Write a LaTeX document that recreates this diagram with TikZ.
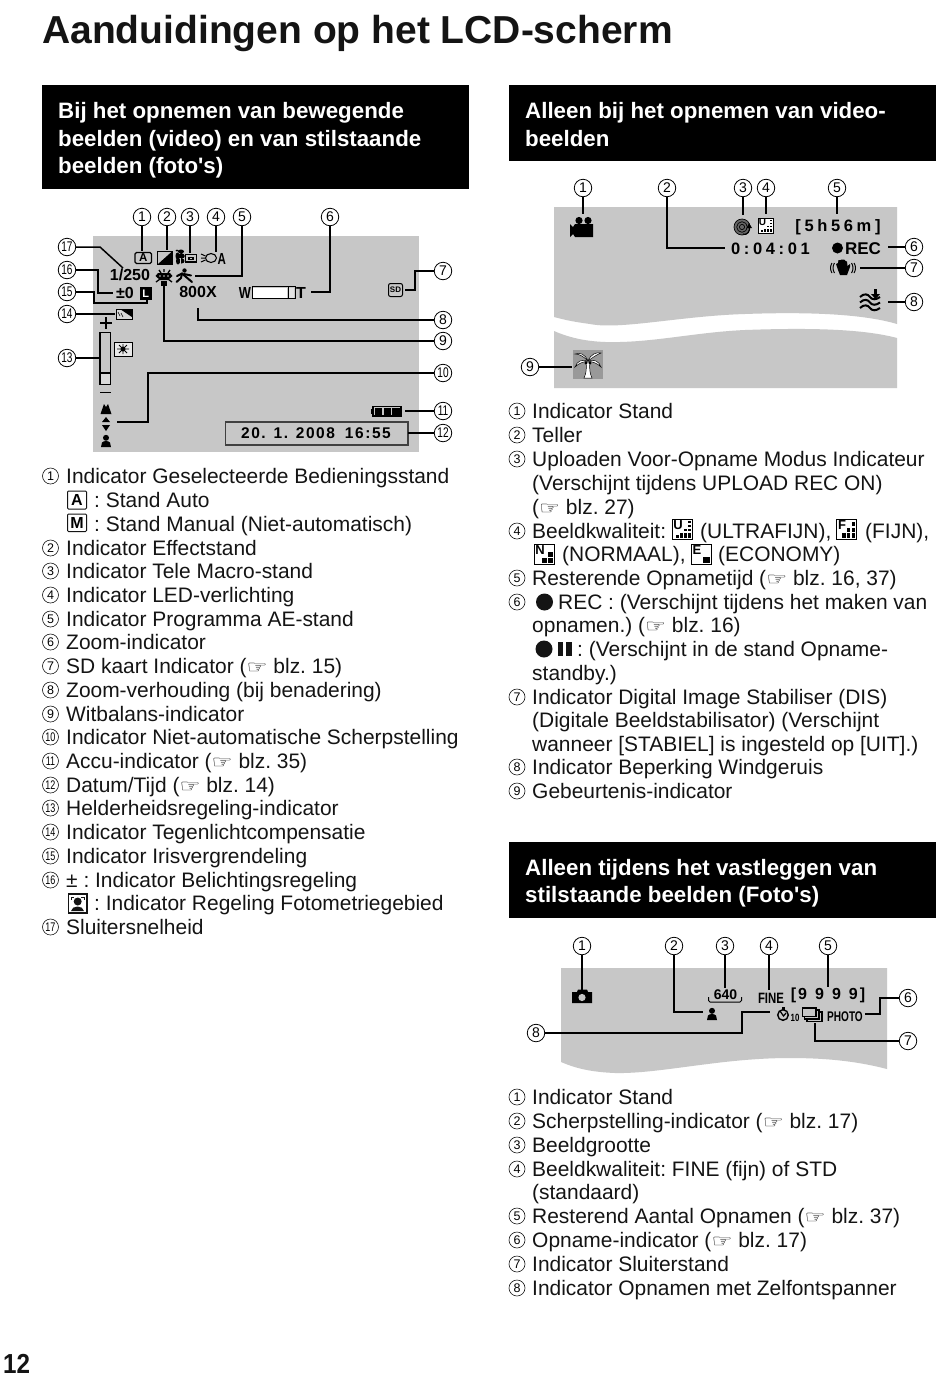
\documentclass[tikz,border=0pt]{standalone}
\usepackage{fontspec}
\usepackage{graphicx}
\setmainfont{Liberation Sans}
\newfontfamily\dejavu{DejaVu Sans}
\newfontfamily\plainsans{Liberation Sans}
\definecolor{lcd}{gray}{0.78}
\definecolor{ink}{gray}{0.08}
\tikzset{
 x=1pt,y=-1pt,
 conn/.style={draw=black,line width=1.5pt},
 connb/.style={draw=black,line width=2.4pt},
 call/.style={circle,draw=black,line width=.8pt,minimum size=17.5pt,inner sep=0pt,fill=white,font=\fontsize{14}{14}\selectfont},
 lnum/.style={circle,draw=ink,line width=.6pt,minimum size=16pt,inner sep=0pt,font=\fontsize{12.5}{13}\selectfont},
 body/.style={anchor=base west,inner sep=0pt,text=ink,font=\fontsize{20.95}{24}\selectfont\frenchspacing},
 head/.style={anchor=base west,inner sep=0pt,text=white,font=\fontsize{22.3}{24}\selectfont\plainsans\bfseries\frenchspacing},
 lab/.style={inner sep=0pt,text=black,font=\fontsize{16}{16}\selectfont\bfseries},
 lcdbox/.style={fill=lcd,draw=none},
 hdr/.style={fill=black,draw=none},
 ico/.style={fill=black,draw=none},
 frm/.style={draw=black,line width=1.2pt}
}
% two-digit numerals squeezed into the circles
\newcommand\nd[1]{\scalebox{.72}[1]{#1}}
% text line: name, x, centre y, text
\newcommand\tl[4]{\node[body] (#1) at (#2,#3+7.6) {#4};}
% list number: name, x, centre y, numeral
\newcommand\lnm[4]{\node[lnum] (#1) at (#2,#3) {#4};}
% pointing-hand reference
\newcommand\hand{\scalebox{1.3}[1]{\dejavu\fontsize{18}{24}\selectfont\char"261E}}
\newcommand\person[2]{\begin{scope}[shift={(#1,#2)}]
 \fill[black] (0,-3.2) circle (3);
 \fill[black] (-5,6) -- (-4,1.5) .. controls (-2,-.5) and (2,-.5) .. (4,1.5) -- (5,6) -- cycle;
\end{scope}}
% quality icon: name, x, y (top-left), size, letter size, letter, level
\newcommand\qual[7]{\begin{scope}[shift={(#2,#3)},x=#4pt,y=-#4pt]
 \draw[black,line width=1pt,fill=white] (0,0) rectangle (1,1);
 \foreach \qa/\qb/\qc/\qd in #7{\fill[black] (\qa,\qb) rectangle (\qc,\qd);}
 \node[inner sep=0pt,font=\fontsize{#5}{#5}\selectfont\bfseries] (#1) at (.3,.3) {#6};
\end{scope}}
\def\qU{.8/.1/.93/.22,.8/.3/.93/.42,.8/.5/.93/.62,.8/.7/.93/.93,.6/.5/.74/.62,.6/.7/.74/.93,.4/.7/.54/.93,.2/.8/.34/.93}
\def\qF{.78/.15/.93/.33,.78/.45/.93/.63,.55/.45/.72/.63,.78/.7/.93/.93,.55/.7/.72/.93,.3/.7/.48/.93}
\def\qN{.72/.35/.93/.6,.72/.67/.93/.93,.42/.67/.64/.93}
\def\qE{.6/.6/.93/.93}
\begin{document}
\begin{tikzpicture}
\useasboundingbox (0,0) rectangle (950,1377);
\fill[white] (0,0) rectangle (950,1377);

% ---------- title and page number
\node[anchor=base west,inner sep=0pt,text=ink,font=\fontsize{39}{40}\selectfont\bfseries] (title) at (42,43) {Aanduidingen op het LCD-scherm};
\node[anchor=base west,inner sep=0pt,text=ink,font=\fontsize{27.5}{28}\selectfont\bfseries] (pageno) at (3,1373) {\scalebox{.88}[1]{12}};

% ---------- header bars
\fill[hdr] (42,85) rectangle (469,189);
\node[head] (h1a) at (58,118) {Bij het opnemen van bewegende};
\node[head] (h1b) at (58,146) {beelden (video) en van stilstaande};
\node[head] (h1c) at (58,173) {beelden (foto's)};
\fill[hdr] (509,85) rectangle (936,161);
\node[head] (h2a) at (525,118) {Alleen bij het opnemen van video-};
\node[head] (h2b) at (525,146) {beelden};
\fill[hdr] (509,842) rectangle (936,918);
\node[head] (h3a) at (525,875) {Alleen tijdens het vastleggen van};
\node[head] (h3b) at (525,902) {stilstaande beelden (Foto's)};

% ---------- LCD 1
\fill[lcdbox] (93,236) rectangle (419,452);
% icon 1
\draw[frm,rounded corners=1.5pt] (135,252.5) rectangle (151.5,263.5);
\node[inner sep=0pt,font=\fontsize{11.5}{11}\selectfont\bfseries] (i1) at (143.2,258) {A};
% icon 2
\draw[black,line width=1pt] (157.5,251.5) rectangle (172,264.5);
\fill[black] (157.5,264.5) -- (172,251.5) -- (172,264.5) -- cycle;
% icon 3 (tele macro)
\fill[black] (177,250.5) ellipse (1.5 and 1) (181,251.5) ellipse (3 and 2) (177.5,256) ellipse (2 and 3.5) (181.5,256) ellipse (3.3 and 2.5) (178,261) ellipse (2 and 3.5) (181.5,261) ellipse (3 and 2.5);
\fill[lcd] (179.5,258) -- (180.8,258) -- (180.8,265) -- (179.5,265) -- cycle;
\draw[black,line width=1.2pt] (185.5,254.5) rectangle (196.5,262);
\fill[black] (188,256.5) -- (193.5,256.5) -- (193.5,260) -- (188,260) -- cycle;
\fill[lcd] (189.5,258) -- (192,258) -- (192,259) -- (189.5,259) -- cycle;
% icon 4 (LED)
\draw[black,line width=1.1pt] (211,258) ellipse (5.5 and 4.5);
\draw[black,line width=1pt] (201,254) -- (205.5,256) (201,258) -- (205,258) (201,262) -- (205.5,260);
\node[inner sep=0pt,font=\fontsize{16}{15}\selectfont\bfseries] (i4) at (221.8,258.5) {\scalebox{.72}[1]{A}};
% icon 5 (running figure)
\begin{scope}[black,line width=2pt,line cap=round]
\fill (184.5,270.5) circle (2.2);
\draw (177,276) -- (182,273.5) -- (192,282);
\draw (182,273.5) -- (181,278) -- (176.5,282);
\draw (184,274) -- (191,275.5);
\end{scope}
% icon 9 (WB sun)
\fill[black] (158,273) -- (170,273) -- (172.5,276) -- (168,280) -- (160,280) -- (155.5,276) -- cycle;
\draw[black,line width=1.3pt] (159,270) -- (161,273) (170,270) -- (168,273) (164,269) -- (164,272);
\draw[black,line width=1.3pt] (156,282) -- (160,279) (172,282) -- (168,279);
\fill[black] (161,281) rectangle (167,285.5);
\fill[lcd] (160,276) circle (.9) (164,276) circle (.9) (168,276) circle (.9);
% texts
\node[lab] (t1250) at (130,275) {1/250};
\node[lab] (tpm) at (125,293) {±0};
\fill[black] (140,287) rectangle (151.5,300);
\node[inner sep=0pt,text=white,font=\fontsize{11}{11}\selectfont\bfseries] (tL) at (145.8,293.5) {L};
\node[lab] (t800) at (198,292) {800X};
\node[lab] (tW) at (245,293) {\scalebox{.8}[1]{W}};
\draw[black,line width=1pt] (252,286.5) rectangle (295,298.5);
\draw[black,line width=.8pt] (288,286.5) -- (288,298.5);
\fill[white] (253,287.5) rectangle (287,297.5);
\fill[white,opacity=.5] (289,287.5) rectangle (294,297.5);
\node[lab] (tT) at (301,293) {T};
% SD
\draw[black,line width=1pt,rounded corners=2pt] (388.5,283.5) rectangle (402.5,296.5);
\node[inner sep=0pt,font=\fontsize{8}{8}\selectfont\bfseries] (tSD) at (395.5,290) {SD};
% backlight icon
\draw[black,line width=1pt,fill=lcd!70] (116,309) rectangle (132,319);
\fill[black] (120,309) -- (132,309) -- (132,317) -- cycle;
\draw[black,line width=.6pt] (118,312) -- (120,316) (121,313) -- (123,317);
% brightness
\draw[black,line width=1.3pt] (100,323) -- (112,323) (106,317) -- (106,329);
\draw[black,line width=1.3pt] (100,332.5) rectangle (110.5,384.5);
\draw[black,line width=1.2pt] (100,373) -- (110.5,373);
\fill[white,opacity=.35] (101,374) rectangle (109.5,384);
\draw[black,line width=1pt] (100,392) -- (111,392);
\draw[black,line width=1pt,fill=white!60!lcd] (114,342) rectangle (132,356);
\fill[black] (123,349) circle (2.5);
\draw[black,line width=.8pt] (117,349) -- (129,349) (123,344) -- (123,354) (119,345) -- (127,353) (127,345) -- (119,353);
% focus
\fill[black] (100.5,414) -- (104,404) -- (106,407) -- (108,404) -- (111.5,414) -- cycle;
\fill[black] (102,422) -- (106,417) -- (110,422) -- cycle;
\fill[black] (102,425) -- (110,425) -- (106,431) -- cycle;
\person{106}{441}
% battery
\draw[black,line width=1.2pt] (373,406.5) rectangle (401,416);
\fill[black] (371,409) rectangle (373,414);
\fill[black] (375,408) rectangle (382,414.5);\fill[black] (383.5,408) rectangle (390.5,414.5);\fill[black] (392,408) rectangle (399.5,414.5);
% date
\draw[black!75,line width=1.4pt] (225.5,422) rectangle (408,445);
\node[lab,font=\fontsize{15.5}{16}\selectfont\bfseries\addfontfeature{LetterSpace=10}] (tdate) at (316,433.5) {20. 1. 2008\hspace{10pt}16:55};

% callouts LCD 1
\node[call] (a1) at (142,217) {1};
\node[call] (a2) at (167,217) {2};
\node[call] (a3) at (190,217) {3};
\node[call] (a4) at (216,217) {4};
\node[call] (a5) at (242,217) {5};
\node[call] (a6) at (330,217) {6};
\node[call] (a7) at (443,271) {7};
\node[call] (a8) at (443,320) {8};
\node[call] (a9) at (443,341) {9};
\node[call] (a10) at (443,373) {\nd{10}};
\node[call] (a11) at (443,411) {\nd{11}};
\node[call] (a12) at (443,433) {\nd{12}};
\node[call] (a13) at (67,358) {\nd{13}};
\node[call] (a14) at (67,314) {\nd{14}};
\node[call] (a15) at (67,292) {\nd{15}};
\node[call] (a16) at (67,270) {\nd{16}};
\node[call] (a17) at (67,247) {\nd{17}};
\coordinate (ae1) at (142,251);\coordinate (ae2) at (167,250);\coordinate (ae3) at (190,253);\coordinate (ae4) at (216,252);
\coordinate (ae5) at (195,276);\coordinate (ae6) at (311,292);
\coordinate (ae7a) at (415,271);\coordinate (ae7b) at (415,290);\coordinate (ae7) at (405,290);
\coordinate (ae8) at (198,308);\coordinate (ae9) at (164,285);
\coordinate (ae10a) at (148,373);\coordinate (ae10b) at (148,422);\coordinate (ae10) at (117,422);
\coordinate (ae11) at (405,411);\coordinate (ae12) at (408,433);\coordinate (ae13) at (99,358);\coordinate (ae14) at (115,314);
\coordinate (ae15a) at (94,292);\coordinate (ae15b) at (94,303);\coordinate (ae15c) at (147,303);\coordinate (ae15) at (147,299);
\coordinate (ae16a) at (98,270);\coordinate (ae16b) at (98,293);\coordinate (ae16) at (113,293);
\coordinate (ae17a) at (100,247);\coordinate (ae17) at (123,268);
\draw[conn] (a1) -- (ae1);\draw[conn] (a2) -- (ae2);\draw[conn] (a3) -- (ae3);\draw[conn] (a4) -- (ae4);
\draw[conn] (a5) |- (ae5);\draw[conn] (a6) |- (ae6);
\draw[conn] (a7) -- (ae7a) -- (ae7b) -- (ae7);
\draw[conn] (a8) -| (ae8);\draw[conn] (a9) -| (ae9);
\draw[conn] (a10) -- (ae10a) -- (ae10b) -- (ae10);
\draw[conn] (a11) -- (ae11);\draw[conn] (a12) -- (ae12);\draw[conn] (a13) -- (ae13);\draw[conn] (a14) -- (ae14);
\draw[conn] (a15) -- (ae15a) -- (ae15b) -- (ae15c) -- (ae15);
\draw[conn] (a16) -- (ae16a) -- (ae16b) -- (ae16);
\draw[conn] (a17) -- (ae17a) -- (ae17);

% ---------- left list
\lnm{la1}{50.5}{476}{1}\tl{lt1}{66}{476}{Indicator Geselecteerde Bedieningsstand}
\draw[ink,line width=1pt,rounded corners=1pt] (67.5,491) rectangle (86.5,509);
\node[inner sep=0pt,font=\fontsize{16}{16}\selectfont\bfseries] (liA) at (77,500) {A};
\tl{lt1a}{94}{500}{: Stand Auto}
\draw[ink,line width=1pt,rounded corners=1pt] (67.5,514) rectangle (86.5,531.5);
\node[inner sep=0pt,font=\fontsize{16}{16}\selectfont\bfseries] (liM) at (77,523) {M};
\tl{lt1b}{94}{524}{: Stand Manual (Niet-automatisch)}
\lnm{la2}{50.5}{548}{2}\tl{lt2}{66}{548}{Indicator Effectstand}
\lnm{la3}{50.5}{571}{3}\tl{lt3}{66}{571}{Indicator Tele Macro-stand}
\lnm{la4}{50.5}{595}{4}\tl{lt4}{66}{595}{Indicator LED-verlichting}
\lnm{la5}{50.5}{619}{5}\tl{lt5}{66}{619}{Indicator Programma AE-stand}
\lnm{la6}{50.5}{642}{6}\tl{lt6}{66}{642}{Zoom-indicator}
\lnm{la7}{50.5}{666}{7}\tl{lt7}{66}{666}{SD kaart Indicator (\hand{} blz. 15)}
\lnm{la8}{50.5}{690}{8}\tl{lt8}{66}{690}{Zoom-verhouding (bij benadering)}
\lnm{la9}{50.5}{714}{9}\tl{lt9}{66}{714}{Witbalans-indicator}
\lnm{la10}{50.5}{737}{\nd{10}}\tl{lt10}{66}{737}{Indicator Niet-automatische Scherpstelling}
\lnm{la11}{50.5}{761}{\nd{11}}\tl{lt11}{66}{761}{Accu-indicator (\hand{} blz. 35)}
\lnm{la12}{50.5}{785}{\nd{12}}\tl{lt12}{66}{785}{Datum/Tijd (\hand{} blz. 14)}
\lnm{la13}{50.5}{808}{\nd{13}}\tl{lt13}{66}{808}{Helderheidsregeling-indicator}
\lnm{la14}{50.5}{832}{\nd{14}}\tl{lt14}{66}{832}{Indicator Tegenlichtcompensatie}
\lnm{la15}{50.5}{856}{\nd{15}}\tl{lt15}{66}{856}{Indicator Irisvergrendeling}
\lnm{la16}{50.5}{880}{\nd{16}}\tl{lt16}{66}{880}{± : Indicator Belichtingsregeling}
\draw[ink,line width=1.2pt] (68.5,894) rectangle (87,913);
\fill[ink] (77.7,901.5) circle (4);\fill[ink] (71,911) .. controls (72,905) and (83,905) .. (84,911) -- cycle;
\draw[ink,line width=1pt] (71,900) -- (71,897) -- (74,897) (81,897) -- (84,897) -- (84,900);
\tl{lt16b}{94}{903}{: Indicator Regeling Fotometriegebied}
\lnm{la17}{50.5}{927}{\nd{17}}\tl{lt17}{66}{927}{Sluitersnelheid}

% ---------- LCD 2
\fill[lcdbox] (554,207) -- (897,207) -- (897,324)
  .. controls (860,313) and (800,312) .. (745,314)
  .. controls (680,316) and (620,330) .. (590,324)
  .. controls (575,322) and (565,320) .. (554,317) -- cycle;
\fill[lcdbox] (554,331)
  .. controls (570,338) and (590,343) .. (620,342)
  .. controls (660,341) and (700,332) .. (745,330)
  .. controls (800,328) and (860,328) .. (897,338)
  -- (897,388) -- (554,388) -- cycle;
% camcorder
\fill[black] (570,224) -- (573,227) -- (575,224) -- (593,224) -- (593,237) -- (575,237) -- (573,234) -- (570,237) -- cycle;
\fill[black] (579,220.5) circle (3.6);\fill[black] (588,220.5) circle (3.6);
% icon 3 disk
\fill[black!60] (742,227) circle (8);
\draw[black,line width=.7pt] (742,227) circle (8) (742,227) circle (5.3) (742,227) circle (2.6);
\draw[black,line width=1.1pt] (749,226) .. controls (751,231) and (747,236) .. (743,234);
\fill[black] (749,223) -- (752,228) -- (746.5,228) -- cycle;
\qual{q2}{758}{218}{15}{10}{U}{\qU}
\node[lab,font=\fontsize{16.5}{16}\selectfont\bfseries\addfontfeature{LetterSpace=22}] (t556) at (838,227.5) {[5h56m]};
\node[lab,font=\fontsize{16.5}{16}\selectfont\bfseries\addfontfeature{LetterSpace=22}] (t0401) at (770.5,248.5) {0:04:01};
\fill[black] (837.5,248) circle (5.5);
\node[lab,font=\fontsize{17}{16}\selectfont\bfseries] (tREC) at (863,248.5) {REC};
% DIS hand
\begin{scope}[shift={(843,268)}]
\fill[black] (-5,2) -- (-7,-4) -- (-5,-5) -- (-4.5,-8) -- (-2.5,-8) -- (-1.5,-8.5) -- (1,-8.5) -- (2.5,-7) -- (4,-6.5) -- (4.5,-2) -- (7,-4) -- (7,-1) -- (4,7) -- (-3,7) -- cycle;
\draw[black,line width=1pt] (-8.5,-5) .. controls (-10.5,-2) and (-10.5,2) .. (-8.5,5) (-11,-5) .. controls (-13,-2) and (-13,2) .. (-11,5) (8.5,-5) .. controls (10.5,-2) and (10.5,2) .. (8.5,5) (11,-5) .. controls (13,-2) and (13,2) .. (11,5);
\end{scope}
% wind
\begin{scope}[shift={(870,300)},black,line width=2pt]
\foreach \w in {-3,2.5,8}{\draw (-10,\w) .. controls (-6,\w-4) and (-2,\w-3) .. (0,\w) .. controls (2,\w+3) and (6,\w+3) .. (10,\w);}
\fill (4,-11) rectangle (7,-6);\fill (1,-6) -- (10,-6) -- (5.5,-1) -- cycle;
\end{scope}
% palm
\fill[black!40] (573,350) rectangle (603,379);
\begin{scope}[shift={(588,362)}]
\fill[white,draw=black,line width=.5pt] (-2,0) .. controls (-1,6) and (-2,12) .. (-4,16) -- (4,16) .. controls (2,12) and (1,6) .. (2,0) -- cycle;
\fill[white,draw=black,line width=.5pt] (0,-1) .. controls (-3,-8) and (-8,-10) .. (-13,-8) .. controls (-8,-8) and (-4,-5) .. (0,-1);
\fill[white,draw=black,line width=.5pt] (0,-1) .. controls (3,-8) and (8,-10) .. (13,-9) .. controls (8,-7) and (4,-4) .. (0,-1);
\fill[white,draw=black,line width=.5pt] (0,-1) .. controls (-6,-3) and (-11,-1) .. (-13,5) .. controls (-9,1) and (-5,0) .. (0,-1);
\fill[white,draw=black,line width=.5pt] (0,-1) .. controls (6,-3) and (11,-1) .. (13,5) .. controls (9,1) and (5,0) .. (0,-1);
\fill[black] (-2,1) circle (1.6) (2,1) circle (1.6);
\end{scope}
% callouts LCD 2
\node[call] (b1) at (583,188) {1};
\node[call] (b2) at (667,188) {2};
\node[call] (b3) at (743,188) {3};
\node[call] (b4) at (766,188) {4};
\node[call] (b5) at (837,188) {5};
\node[call] (b6) at (914,247) {6};
\node[call] (b7) at (914,268) {7};
\node[call] (b8) at (914,302) {8};
\node[call] (b9) at (530,367) {9};
\coordinate (be1) at (583,214);\coordinate (be2) at (725,248);\coordinate (be3) at (743,215);\coordinate (be4) at (766,214);\coordinate (be5) at (837,214);
\coordinate (be6) at (888,247);\coordinate (be7) at (860,268);\coordinate (be8) at (888,302);\coordinate (be9) at (572,367);
\draw[conn] (b1) -- (be1);\draw[conn] (b2) |- (be2);\draw[conn] (b3) -- (be3);\draw[conn] (b4) -- (be4);\draw[conn] (b5) -- (be5);
\draw[conn] (b6) -- (be6);\draw[connb] (b7) -- (be7);\draw[conn] (b8) -- (be8);\draw[conn] (b9) -- (be9);

% ---------- right list 1
\lnm{ra1}{517}{411}{1}\tl{rt1}{532}{411}{Indicator Stand}
\lnm{ra2}{517}{435}{2}\tl{rt2}{532}{435}{Teller}
\lnm{ra3}{517}{459}{3}\tl{rt3}{532}{459}{Uploaden Voor-Opname Modus Indicateur}
\tl{rt3b}{532}{483}{(Verschijnt tijdens UPLOAD REC ON)}
\tl{rt3c}{532}{507}{(\hand{} blz. 27)}
\lnm{ra4}{517}{531}{4}\tl{rt4}{532}{531}{Beeldkwaliteit:}
\qual{q3}{672}{519}{20}{13}{U}{\qU}
\tl{rt4b}{700}{531}{(ULTRAFIJN),}
\qual{q4}{836}{519}{20}{13}{F}{\qF}
\tl{rt4c}{865}{531}{(FIJN),}
\qual{q5}{534}{544.5}{20}{13}{N}{\qN}
\tl{rt4d}{562}{554}{(NORMAAL),}
\qual{q6}{691}{544.5}{20}{13}{E}{\qE}
\tl{rt4e}{718}{554}{(ECONOMY)}
\lnm{ra5}{517}{578}{5}\tl{rt5}{532}{578}{Resterende Opnametijd (\hand{} blz. 16, 37)}
\lnm{ra6}{517}{602}{6}
\fill[ink] (544.5,602) circle (8.5);
\tl{rt6}{558}{602}{REC : (Verschijnt tijdens het maken van}
\tl{rt6b}{532}{625}{opnamen.) (\hand{} blz. 16)}
\fill[ink] (544,649) circle (8.5);
\fill[ink] (557.5,642) rectangle (563,656);\fill[ink] (566,642) rectangle (571.5,656);
\tl{rt6c}{577}{649}{: (Verschijnt in de stand Opname-}
\tl{rt6d}{532}{673}{standby.)}
\lnm{ra7}{517}{697}{7}\tl{rt7}{532}{697}{Indicator Digital Image Stabiliser (DIS)}
\tl{rt7b}{532}{720}{(Digitale Beeldstabilisator) (Verschijnt}
\tl{rt7c}{532}{744}{wanneer [STABIEL] is ingesteld op [UIT].)}
\lnm{ra8}{517}{767}{8}\tl{rt8}{532}{767}{Indicator Beperking Windgeruis}
\lnm{ra9}{517}{791}{9}\tl{rt9}{532}{791}{Gebeurtenis-indicator}

% ---------- LCD 3
\fill[lcdbox] (561,968) -- (887,968) -- (887,1069)
  .. controls (860,1062) and (830,1058) .. (790,1058)
  .. controls (720,1058) and (660,1074) .. (615,1073)
  .. controls (590,1072) and (575,1068) .. (561,1062) -- cycle;
% camera
\fill[black] (572,992) -- (577,992) -- (578,989.5) -- (587,989.5) -- (588,992) -- (592,992) -- (592,1003) -- (572,1003) -- cycle;
\fill[lcd] (582,997.5) circle (3.6);
% 640
\node[lab,font=\fontsize{14}{15}\selectfont\bfseries] (t640) at (725.5,995) {640};
\draw[black,line width=1pt,rounded corners=1.5pt] (708.5,997) -- (708.5,1002) -- (741.5,1002) -- (741.5,997);
\node[lab,font=\fontsize{15}{15}\selectfont\bfseries] (tFINE) at (771,998) {\scalebox{.76}[1]{FINE}};
\node[lab,font=\fontsize{16}{16}\selectfont\bfseries] (t9999) at (828,995) {[\hspace{2pt}9\hspace{8pt}9\hspace{8pt}9\hspace{8pt}9\hspace{2pt}]};
\person{712}{1014}
% timer
\draw[black,line width=1.4pt] (783,1015) circle (5.3);
\fill[black] (781.5,1006.5) rectangle (784.5,1010);
\draw[black,line width=1.2pt] (780,1011) -- (783.5,1016) -- (786,1013);
\node[inner sep=0pt,font=\fontsize{10.5}{10}\selectfont\bfseries] (t10) at (795,1018) {\scalebox{.75}[1]{10}};
% continuous
\draw[black,line width=1.1pt] (807,1012) rectangle (822,1021.5);
\draw[black,line width=1.1pt,fill=lcd] (804.5,1010) rectangle (819,1019);
\draw[black,line width=1.2pt,fill=lcd] (802.5,1008) rectangle (816,1016.5);
\node[lab,font=\fontsize{14}{15}\selectfont\bfseries] (tPHOTO) at (845,1017) {\scalebox{.72}[1]{PHOTO}};
% callouts LCD 3
\node[call] (d1) at (582,946) {1};
\node[call] (d2) at (674,946) {2};
\node[call] (d3) at (725,946) {3};
\node[call] (d4) at (769,946) {4};
\node[call] (d5) at (828,946) {5};
\node[call] (d6) at (908,998) {6};
\node[call] (d7) at (908,1041) {7};
\node[call] (d8) at (536,1033) {8};
\coordinate (de1) at (582,990);\coordinate (de2) at (703,1012);\coordinate (de3) at (725,988);\coordinate (de4) at (769,990);\coordinate (de5) at (828,987);
\coordinate (de6a) at (880,998);\coordinate (de6b) at (880,1014);\coordinate (de6) at (865,1014);
\coordinate (de7) at (815,1023);
\coordinate (de8a) at (742,1033);\coordinate (de8b) at (742,1012);\coordinate (de8) at (770,1012);
\draw[conn] (d1) -- (de1);\draw[conn] (d2) |- (de2);\draw[conn] (d3) -- (de3);\draw[conn] (d4) -- (de4);\draw[conn] (d5) -- (de5);
\draw[conn] (d6) -- (de6a) -- (de6b) -- (de6);
\draw[conn] (d7) -| (de7);
\draw[conn] (d8) -- (de8a) -- (de8b) -- (de8);

% ---------- right list 2
\lnm{sa1}{517}{1097}{1}\tl{st1}{532}{1097}{Indicator Stand}
\lnm{sa2}{517}{1121}{2}\tl{st2}{532}{1121}{Scherpstelling-indicator (\hand{} blz. 17)}
\lnm{sa3}{517}{1145}{3}\tl{st3}{532}{1145}{Beeldgrootte}
\lnm{sa4}{517}{1169}{4}\tl{st4}{532}{1169}{Beeldkwaliteit: FINE (fijn) of STD}
\tl{st4b}{532}{1192}{(standaard)}
\lnm{sa5}{517}{1216}{5}\tl{st5}{532}{1216}{Resterend Aantal Opnamen (\hand{} blz. 37)}
\lnm{sa6}{517}{1240}{6}\tl{st6}{532}{1240}{Opname-indicator (\hand{} blz. 17)}
\lnm{sa7}{517}{1264}{7}\tl{st7}{532}{1264}{Indicator Sluiterstand}
\lnm{sa8}{517}{1288}{8}\tl{st8}{532}{1288}{Indicator Opnamen met Zelfontspanner}
\end{tikzpicture}
\end{document}
